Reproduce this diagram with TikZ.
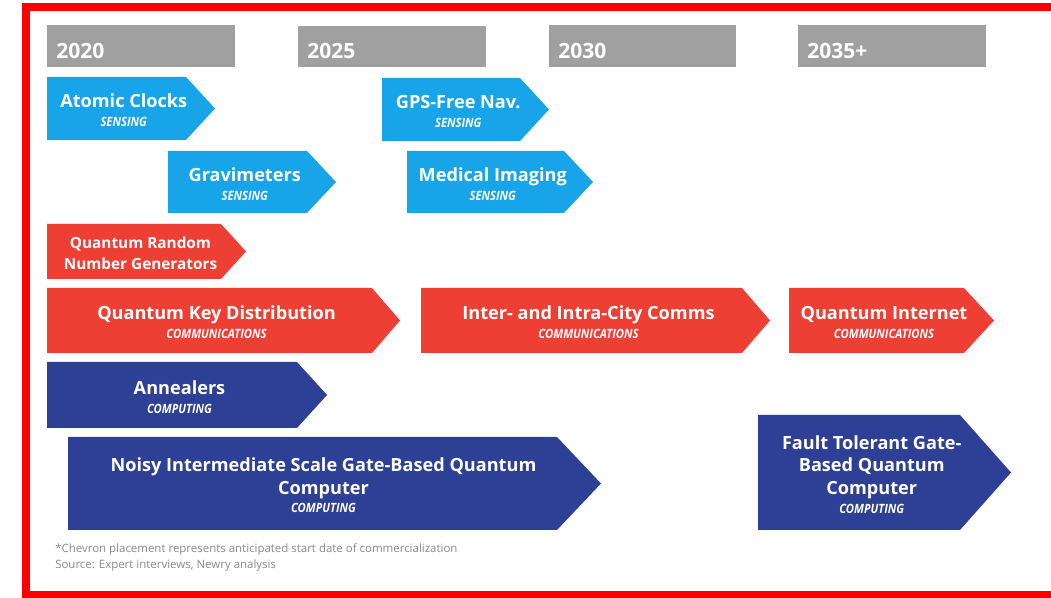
\documentclass[tikz,border=0pt]{standalone}
\usepackage{fontspec}
\setmainfont{Open Sans}
\newfontfamily\tagfont[FakeStretch=0.88]{Open Sans}
\definecolor{sky}{HTML}{18A4E8}
\definecolor{comred}{HTML}{EE3F35}
\definecolor{navy}{HTML}{2E3F96}
\definecolor{bargray}{HTML}{A0A0A1}
\definecolor{notegray}{HTML}{8A8A8A}
\definecolor{frame}{HTML}{FF0000}

% chevron: name, x1, y1, x2, y2, tip depth, colour, label
\newcommand\qchev[8]{%
  \fill[#7] (#2,#3) -- ({#4-#6},#3) -- (#4,{(#3+#5)/2}) -- ({#4-#6},#5) -- (#2,#5) -- cycle;
  \node[chevtext] (#1) at ({(#2+#4)/2-#6/4},{(#3+#5)/2+2}) {#8};
}
\newcommand\qtag[1]{\\[-3pt]{\tagfont\itshape\fontsize{9.6}{11}\selectfont #1}}

\begin{document}
\begin{tikzpicture}[x=0.75pt,y=-0.75pt,
  chevtext/.style={align=center,text=white,inner sep=0pt,
    font=\bfseries\fontsize{13.6}{17}\selectfont},
  smalltext/.style={align=center,text=white,inner sep=0pt,
    font=\bfseries\fontsize{11.5}{15.5}\selectfont},
  yeartext/.style={anchor=base west,text=white,inner sep=0pt,
    font=\bfseries\fontsize{15.8}{18}\selectfont},
  note/.style={anchor=base west,text=notegray,inner sep=0pt,
    font=\fontsize{8.6}{10}\selectfont}]
\useasboundingbox (0,0) rectangle (1051,598);
\fill[white] (0,0) rectangle (1051,598);
% outer frame (runs past the right edge)
\draw[frame,line width=5.3pt] (26,7) rectangle (1100,594.5);

% timeline headers
\fill[bargray] (47,25) rectangle (235,67);
\node[yeartext] (y2020) at (56,59) {2020};
\fill[bargray] (298,26) rectangle (486,67);
\node[yeartext] (y2025) at (307,59) {2025};
\fill[bargray] (549,25) rectangle (736,67);
\node[yeartext] (y2030) at (558,59) {2030};
\fill[bargray] (798,25) rectangle (986,67);
\node[yeartext] (y2035) at (807,59) {2035+};

% sensing
\qchev{clocks}{47}{77}{215}{140}{29}{sky}{Atomic Clocks\qtag{SENSING}}
\qchev{gps}{382}{78}{549}{141}{29}{sky}{GPS-Free Nav.\qtag{SENSING}}
\qchev{grav}{168}{151}{336}{213}{29}{sky}{Gravimeters\qtag{SENSING}}
\qchev{medical}{407}{151}{593}{213}{29}{sky}{Medical Imaging\qtag{SENSING}}

% communications
\fill[comred] (47,224) -- (221,224) -- (246,251.5) -- (221,279) -- (47,279) -- cycle;
\node[smalltext] (qrng) at (140.5,253) {Quantum Random\\Number Generators};
\qchev{qkd}{47}{288}{400}{353}{28}{comred}{Quantum Key Distribution\qtag{COMMUNICATIONS}}
\qchev{city}{421}{288}{770}{353}{28}{comred}{Inter- and Intra-City Comms\qtag{COMMUNICATIONS}}
\qchev{internet}{789}{288}{994}{353}{30}{comred}{Quantum Internet\qtag{COMMUNICATIONS}}

% computing
\qchev{anneal}{47}{362}{327}{428}{30}{navy}{Annealers\qtag{COMPUTING}}
\qchev{nisq}{68}{437}{601}{530}{44}{navy}{Noisy Intermediate Scale Gate-Based Quantum\\Computer\qtag{COMPUTING}}
\qchev{fault}{758}{415}{1011}{530}{51}{navy}{Fault Tolerant Gate-\\Based Quantum\\Computer\qtag{COMPUTING}}

% footnotes
\node[note] (note1) at (55,553) {*Chevron placement represents anticipated start date of commercialization};
\node[note] (note2) at (55,569) {Source: Expert interviews, Newry analysis};
\end{tikzpicture}
\end{document}
